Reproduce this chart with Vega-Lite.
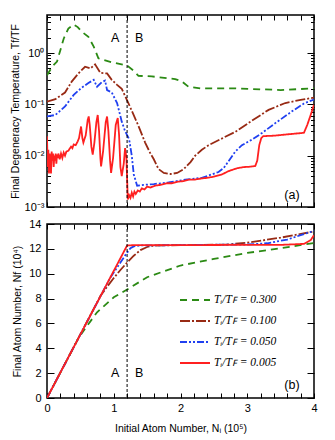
{
  "$schema": "https://vega.github.io/schema/vega-lite/v6.json",
  "padding": {"left": 9, "top": 10, "right": 4, "bottom": 2},
  "spacing": 4,
  "config": {
    "font": "Liberation Sans",
    "view": {"stroke": "black", "strokeWidth": 1.5},
    "axis": {
      "domain": false, "grid": false, "tickColor": "black", "tickWidth": 1,
      "labelColor": "black", "titleColor": "black",
      "labelFont": "Liberation Sans", "titleFont": "Liberation Sans",
      "labelFontSize": 11, "titleFontSize": 10.5, "titleFontWeight": "normal",
      "labelFlush": false, "labelOverlap": false, "labelBound": false
    },
    "legend": {"labelFont": "Liberation Serif", "labelFontSize": 11.5, "labelFontStyle": "italic", "labelColor": "black"}
  },
  "datasets": {
    "top": [
      {"r": "0.300", "N": 0.0, "T": 0.37}, {"r": "0.300", "N": 0.08, "T": 0.55}, {"r": "0.300", "N": 0.15, "T": 0.68},
      {"r": "0.300", "N": 0.25, "T": 1.9}, {"r": "0.300", "N": 0.32, "T": 3.0}, {"r": "0.300", "N": 0.4, "T": 3.6},
      {"r": "0.300", "N": 0.46, "T": 3.2}, {"r": "0.300", "N": 0.52, "T": 2.6}, {"r": "0.300", "N": 0.62, "T": 2.07},
      {"r": "0.300", "N": 0.7, "T": 1.33}, {"r": "0.300", "N": 0.77, "T": 0.79}, {"r": "0.300", "N": 0.85, "T": 0.73},
      {"r": "0.300", "N": 0.97, "T": 0.66}, {"r": "0.300", "N": 1.2, "T": 0.57}, {"r": "0.300", "N": 1.3, "T": 0.45},
      {"r": "0.300", "N": 1.37, "T": 0.36}, {"r": "0.300", "N": 1.57, "T": 0.35}, {"r": "0.300", "N": 1.92, "T": 0.31},
      {"r": "0.300", "N": 2.02, "T": 0.28}, {"r": "0.300", "N": 2.12, "T": 0.22}, {"r": "0.300", "N": 2.3, "T": 0.205},
      {"r": "0.300", "N": 2.8, "T": 0.205}, {"r": "0.300", "N": 3.5, "T": 0.19}, {"r": "0.300", "N": 4.0, "T": 0.205},

      {"r": "0.100", "N": 0.0, "T": 0.113}, {"r": "0.100", "N": 0.125, "T": 0.126}, {"r": "0.100", "N": 0.27, "T": 0.17},
      {"r": "0.100", "N": 0.37, "T": 0.277}, {"r": "0.100", "N": 0.47, "T": 0.4}, {"r": "0.100", "N": 0.57, "T": 0.54},
      {"r": "0.100", "N": 0.65, "T": 0.5}, {"r": "0.100", "N": 0.72, "T": 0.6}, {"r": "0.100", "N": 0.8, "T": 0.41},
      {"r": "0.100", "N": 0.9, "T": 0.4}, {"r": "0.100", "N": 0.97, "T": 0.3}, {"r": "0.100", "N": 1.05, "T": 0.24},
      {"r": "0.100", "N": 1.12, "T": 0.2}, {"r": "0.100", "N": 1.2, "T": 0.12}, {"r": "0.100", "N": 1.27, "T": 0.075},
      {"r": "0.100", "N": 1.37, "T": 0.038}, {"r": "0.100", "N": 1.47, "T": 0.018}, {"r": "0.100", "N": 1.55, "T": 0.011},
      {"r": "0.100", "N": 1.6, "T": 0.0085}, {"r": "0.100", "N": 1.67, "T": 0.0055}, {"r": "0.100", "N": 1.75, "T": 0.0046},
      {"r": "0.100", "N": 1.85, "T": 0.0044}, {"r": "0.100", "N": 1.95, "T": 0.0046}, {"r": "0.100", "N": 2.05, "T": 0.0055},
      {"r": "0.100", "N": 2.15, "T": 0.0075}, {"r": "0.100", "N": 2.22, "T": 0.01}, {"r": "0.100", "N": 2.32, "T": 0.013},
      {"r": "0.100", "N": 2.42, "T": 0.016}, {"r": "0.100", "N": 2.6, "T": 0.021}, {"r": "0.100", "N": 2.82, "T": 0.029},
      {"r": "0.100", "N": 3.07, "T": 0.048}, {"r": "0.100", "N": 3.32, "T": 0.078}, {"r": "0.100", "N": 3.57, "T": 0.106},
      {"r": "0.100", "N": 3.8, "T": 0.122}, {"r": "0.100", "N": 4.0, "T": 0.135},

      {"r": "0.050", "N": 0.0, "T": 0.058}, {"r": "0.050", "N": 0.125, "T": 0.062}, {"r": "0.050", "N": 0.27, "T": 0.091},
      {"r": "0.050", "N": 0.4, "T": 0.153}, {"r": "0.050", "N": 0.51, "T": 0.206}, {"r": "0.050", "N": 0.62, "T": 0.26},
      {"r": "0.050", "N": 0.7, "T": 0.3}, {"r": "0.050", "N": 0.75, "T": 0.22}, {"r": "0.050", "N": 0.82, "T": 0.27},
      {"r": "0.050", "N": 0.87, "T": 0.29}, {"r": "0.050", "N": 0.9, "T": 0.19}, {"r": "0.050", "N": 0.97, "T": 0.17},
      {"r": "0.050", "N": 1.05, "T": 0.106}, {"r": "0.050", "N": 1.12, "T": 0.046}, {"r": "0.050", "N": 1.17, "T": 0.03},
      {"r": "0.050", "N": 1.23, "T": 0.021}, {"r": "0.050", "N": 1.27, "T": 0.01}, {"r": "0.050", "N": 1.3, "T": 0.0043},
      {"r": "0.050", "N": 1.35, "T": 0.0026}, {"r": "0.050", "N": 1.45, "T": 0.0027}, {"r": "0.050", "N": 1.6, "T": 0.0028},
      {"r": "0.050", "N": 1.82, "T": 0.003}, {"r": "0.050", "N": 2.07, "T": 0.0034}, {"r": "0.050", "N": 2.32, "T": 0.0037},
      {"r": "0.050", "N": 2.57, "T": 0.0048}, {"r": "0.050", "N": 2.65, "T": 0.0058}, {"r": "0.050", "N": 2.72, "T": 0.0078},
      {"r": "0.050", "N": 2.82, "T": 0.012}, {"r": "0.050", "N": 2.92, "T": 0.016}, {"r": "0.050", "N": 3.07, "T": 0.0205},
      {"r": "0.050", "N": 3.22, "T": 0.0276}, {"r": "0.050", "N": 3.42, "T": 0.043}, {"r": "0.050", "N": 3.67, "T": 0.073},
      {"r": "0.050", "N": 3.85, "T": 0.104}, {"r": "0.050", "N": 4.0, "T": 0.124},

      {"r": "0.005", "N": 0.0, "T": 0.024}, {"r": "0.005", "N": 0.01, "T": 0.006}, {"r": "0.005", "N": 0.02, "T": 0.013},
      {"r": "0.005", "N": 0.03, "T": 0.0045}, {"r": "0.005", "N": 0.04, "T": 0.011}, {"r": "0.005", "N": 0.05, "T": 0.007},
      {"r": "0.005", "N": 0.06, "T": 0.0045}, {"r": "0.005", "N": 0.07, "T": 0.012}, {"r": "0.005", "N": 0.08, "T": 0.008},
      {"r": "0.005", "N": 0.09, "T": 0.011}, {"r": "0.005", "N": 0.1, "T": 0.006}, {"r": "0.005", "N": 0.11, "T": 0.01},
      {"r": "0.005", "N": 0.12, "T": 0.008}, {"r": "0.005", "N": 0.13, "T": 0.011}, {"r": "0.005", "N": 0.14, "T": 0.007},
      {"r": "0.005", "N": 0.15, "T": 0.0105}, {"r": "0.005", "N": 0.16, "T": 0.009}, {"r": "0.005", "N": 0.17, "T": 0.011},
      {"r": "0.005", "N": 0.19, "T": 0.0085}, {"r": "0.005", "N": 0.21, "T": 0.011}, {"r": "0.005", "N": 0.23, "T": 0.009},
      {"r": "0.005", "N": 0.25, "T": 0.0115}, {"r": "0.005", "N": 0.27, "T": 0.01}, {"r": "0.005", "N": 0.29, "T": 0.012},
      {"r": "0.005", "N": 0.32, "T": 0.0125}, {"r": "0.005", "N": 0.36, "T": 0.015}, {"r": "0.005", "N": 0.38, "T": 0.014},
      {"r": "0.005", "N": 0.4, "T": 0.0165}, {"r": "0.005", "N": 0.43, "T": 0.016}, {"r": "0.005", "N": 0.46, "T": 0.019},
      {"r": "0.005", "N": 0.48, "T": 0.022}, {"r": "0.005", "N": 0.51, "T": 0.037}, {"r": "0.005", "N": 0.53, "T": 0.022},
      {"r": "0.005", "N": 0.545, "T": 0.018}, {"r": "0.005", "N": 0.58, "T": 0.025}, {"r": "0.005", "N": 0.61, "T": 0.05},
      {"r": "0.005", "N": 0.625, "T": 0.058}, {"r": "0.005", "N": 0.64, "T": 0.04}, {"r": "0.005", "N": 0.665, "T": 0.015},
      {"r": "0.005", "N": 0.685, "T": 0.0105}, {"r": "0.005", "N": 0.71, "T": 0.018}, {"r": "0.005", "N": 0.74, "T": 0.045},
      {"r": "0.005", "N": 0.76, "T": 0.062}, {"r": "0.005", "N": 0.78, "T": 0.03}, {"r": "0.005", "N": 0.8, "T": 0.009},
      {"r": "0.005", "N": 0.81, "T": 0.0062}, {"r": "0.005", "N": 0.84, "T": 0.012}, {"r": "0.005", "N": 0.88, "T": 0.045},
      {"r": "0.005", "N": 0.9, "T": 0.058}, {"r": "0.005", "N": 0.92, "T": 0.03}, {"r": "0.005", "N": 0.945, "T": 0.008},
      {"r": "0.005", "N": 0.96, "T": 0.0046}, {"r": "0.005", "N": 0.99, "T": 0.009}, {"r": "0.005", "N": 1.03, "T": 0.04},
      {"r": "0.005", "N": 1.06, "T": 0.054}, {"r": "0.005", "N": 1.08, "T": 0.025}, {"r": "0.005", "N": 1.1, "T": 0.006},
      {"r": "0.005", "N": 1.12, "T": 0.004}, {"r": "0.005", "N": 1.15, "T": 0.007}, {"r": "0.005", "N": 1.17, "T": 0.014},
      {"r": "0.005", "N": 1.19, "T": 0.009}, {"r": "0.005", "N": 1.21, "T": 0.0014}, {"r": "0.005", "N": 1.23, "T": 0.0017},
      {"r": "0.005", "N": 1.25, "T": 0.0015}, {"r": "0.005", "N": 1.27, "T": 0.0019}, {"r": "0.005", "N": 1.29, "T": 0.0016},
      {"r": "0.005", "N": 1.31, "T": 0.002}, {"r": "0.005", "N": 1.33, "T": 0.0018}, {"r": "0.005", "N": 1.36, "T": 0.0021},
      {"r": "0.005", "N": 1.39, "T": 0.002}, {"r": "0.005", "N": 1.42, "T": 0.0023}, {"r": "0.005", "N": 1.46, "T": 0.0022},
      {"r": "0.005", "N": 1.5, "T": 0.0025}, {"r": "0.005", "N": 1.55, "T": 0.0024}, {"r": "0.005", "N": 1.62, "T": 0.0026},
      {"r": "0.005", "N": 1.7, "T": 0.0027}, {"r": "0.005", "N": 1.8, "T": 0.0029}, {"r": "0.005", "N": 1.87, "T": 0.0029},
      {"r": "0.005", "N": 1.95, "T": 0.0031}, {"r": "0.005", "N": 2.05, "T": 0.0032}, {"r": "0.005", "N": 2.12, "T": 0.0034},
      {"r": "0.005", "N": 2.2, "T": 0.0034}, {"r": "0.005", "N": 2.32, "T": 0.0036}, {"r": "0.005", "N": 2.4, "T": 0.0037},
      {"r": "0.005", "N": 2.5, "T": 0.0039}, {"r": "0.005", "N": 2.62, "T": 0.0043}, {"r": "0.005", "N": 2.72, "T": 0.005},
      {"r": "0.005", "N": 2.85, "T": 0.0057}, {"r": "0.005", "N": 2.95, "T": 0.006}, {"r": "0.005", "N": 3.05, "T": 0.0061},
      {"r": "0.005", "N": 3.12, "T": 0.0063}, {"r": "0.005", "N": 3.15, "T": 0.008}, {"r": "0.005", "N": 3.18, "T": 0.016},
      {"r": "0.005", "N": 3.21, "T": 0.022}, {"r": "0.005", "N": 3.24, "T": 0.024}, {"r": "0.005", "N": 3.4, "T": 0.0245},
      {"r": "0.005", "N": 3.6, "T": 0.026}, {"r": "0.005", "N": 3.8, "T": 0.0275}, {"r": "0.005", "N": 3.85, "T": 0.028},
      {"r": "0.005", "N": 3.9, "T": 0.04}, {"r": "0.005", "N": 3.95, "T": 0.062}, {"r": "0.005", "N": 4.0, "T": 0.098}
    ],
    "bottom": [
      {"r": "0.300", "N": 0.0, "F": 0.0}, {"r": "0.300", "N": 0.47, "F": 4.8}, {"r": "0.300", "N": 0.6, "F": 5.8},
      {"r": "0.300", "N": 0.75, "F": 6.9}, {"r": "0.300", "N": 1.0, "F": 8.1}, {"r": "0.300", "N": 1.2, "F": 8.73},
      {"r": "0.300", "N": 1.5, "F": 9.72}, {"r": "0.300", "N": 2.0, "F": 10.66}, {"r": "0.300", "N": 2.5, "F": 11.19},
      {"r": "0.300", "N": 3.0, "F": 11.67}, {"r": "0.300", "N": 3.5, "F": 12.05}, {"r": "0.300", "N": 4.0, "F": 12.47},

      {"r": "0.100", "N": 0.0, "F": 0.0}, {"r": "0.100", "N": 0.8, "F": 8.2}, {"r": "0.100", "N": 0.9, "F": 8.95},
      {"r": "0.100", "N": 1.0, "F": 9.65}, {"r": "0.100", "N": 1.1, "F": 10.3}, {"r": "0.100", "N": 1.2, "F": 10.9},
      {"r": "0.100", "N": 1.3, "F": 11.45}, {"r": "0.100", "N": 1.4, "F": 11.9}, {"r": "0.100", "N": 1.5, "F": 12.15},
      {"r": "0.100", "N": 1.6, "F": 12.27}, {"r": "0.100", "N": 2.0, "F": 12.3}, {"r": "0.100", "N": 2.7, "F": 12.35},
      {"r": "0.100", "N": 3.0, "F": 12.5}, {"r": "0.100", "N": 3.5, "F": 12.9}, {"r": "0.100", "N": 4.0, "F": 13.4},

      {"r": "0.050", "N": 0.0, "F": 0.0}, {"r": "0.050", "N": 0.95, "F": 9.7}, {"r": "0.050", "N": 1.05, "F": 10.5},
      {"r": "0.050", "N": 1.15, "F": 11.3}, {"r": "0.050", "N": 1.2, "F": 11.7}, {"r": "0.050", "N": 1.25, "F": 12.05},
      {"r": "0.050", "N": 1.3, "F": 12.2}, {"r": "0.050", "N": 1.4, "F": 12.28}, {"r": "0.050", "N": 2.0, "F": 12.3},
      {"r": "0.050", "N": 3.0, "F": 12.35}, {"r": "0.050", "N": 3.3, "F": 12.45}, {"r": "0.050", "N": 3.6, "F": 12.75},
      {"r": "0.050", "N": 3.8, "F": 13.1}, {"r": "0.050", "N": 4.0, "F": 13.45},

      {"r": "0.005", "N": 0.0, "F": 0.0}, {"r": "0.005", "N": 1.2, "F": 12.27}, {"r": "0.005", "N": 1.3, "F": 12.3},
      {"r": "0.005", "N": 2.0, "F": 12.3}, {"r": "0.005", "N": 3.0, "F": 12.32}, {"r": "0.005", "N": 3.5, "F": 12.32},
      {"r": "0.005", "N": 3.85, "F": 12.4}, {"r": "0.005", "N": 3.95, "F": 12.7}, {"r": "0.005", "N": 4.0, "F": 13.1}
    ],
    "notesTop": [
      {"N": 1.02, "T": 2.0, "label": "A"}, {"N": 1.38, "T": 2.0, "label": "B"}, {"N": 3.67, "T": 0.00175, "label": "(a)"}
    ],
    "notesBottom": [
      {"N": 1.02, "F": 2.0, "label": "A"}, {"N": 1.38, "F": 2.0, "label": "B"}, {"N": 3.67, "F": 1.05, "label": "(b)"}
    ],
    "vline": [{"N": 1.2}]
  },
  "resolve": {"legend": {"color": "independent", "strokeDash": "independent"}},
  "vconcat": [
    {
      "width": 267, "height": 192,
      "resolve": {"axis": {"x": "independent", "y": "independent"}},
      "layer": [
        {
          "data": {"name": "top"},
          "mark": {"type": "line", "strokeWidth": 1.8, "clip": true},
          "encoding": {
            "x": {"field": "N", "type": "quantitative", "scale": {"domain": [0, 4], "nice": false},
              "axis": {"orient": "bottom", "values": [0,0.2,0.4,0.6,0.8,1,1.2,1.4,1.6,1.8,2,2.2,2.4,2.6,2.8,3,3.2,3.4,3.6,3.8,4], "labels": false, "title": null, "tickSize": -5}},
            "y": {"field": "T", "type": "quantitative", "scale": {"type": "log", "domain": [0.001, 5.5], "nice": false},
              "axis": {"orient": "left",
                "values": [0.001,0.002,0.003,0.004,0.005,0.006,0.007,0.008,0.009,0.01,0.02,0.03,0.04,0.05,0.06,0.07,0.08,0.09,0.1,0.2,0.3,0.4,0.5,0.6,0.7,0.8,0.9,1,2,3,4,5],
                "labelExpr": "datum.value==1?'10⁰':datum.value==0.1?'10⁻¹':datum.value==0.01?'10⁻²':datum.value==0.001?'10⁻³':''",
                "tickSize": {"condition": {"test": "datum.value==1||datum.value==0.1||datum.value==0.01||datum.value==0.001", "value": -7}, "value": -3.5},
                "labelPadding": 10,
                "title": "Final Degeneracy Temperature, Tf/TF", "titlePadding": 4}},
            "color": {"field": "r", "type": "nominal", "scale": {"domain": ["0.300", "0.100", "0.050", "0.005"], "range": ["#2b8a14", "#982a14", "#2040f0", "#ff2020"]}, "legend": null},
            "strokeDash": {"field": "r", "type": "nominal", "scale": {"domain": ["0.300", "0.100", "0.050", "0.005"], "range": [[7, 5], [10, 2, 2, 2], [7, 2, 2, 2, 2, 2], [1, 0]]}, "legend": null}
          }
        },
        {
          "data": {"name": "notesTop"},
          "mark": {"type": "text", "fontSize": 12.5, "font": "Liberation Sans", "color": "black"},
          "encoding": {
            "x": {"field": "N", "type": "quantitative", "axis": {"orient": "top", "values": [0,0.2,0.4,0.6,0.8,1,1.2,1.4,1.6,1.8,2,2.2,2.4,2.6,2.8,3,3.2,3.4,3.6,3.8,4], "labels": false, "title": null, "tickSize": -5}},
            "y": {"field": "T", "type": "quantitative", "scale": {"type": "log"},
              "axis": {"orient": "right",
                "values": [0.001,0.002,0.003,0.004,0.005,0.006,0.007,0.008,0.009,0.01,0.02,0.03,0.04,0.05,0.06,0.07,0.08,0.09,0.1,0.2,0.3,0.4,0.5,0.6,0.7,0.8,0.9,1,2,3,4,5],
                "labels": false, "title": null,
                "tickSize": {"condition": {"test": "datum.value==1||datum.value==0.1||datum.value==0.01||datum.value==0.001", "value": -7}, "value": -3.5}}},
            "text": {"field": "label"}
          }
        },
        {
          "data": {"name": "vline"},
          "mark": {"type": "rule", "strokeDash": [3, 2], "color": "black", "strokeWidth": 1},
          "encoding": {"x": {"field": "N", "type": "quantitative", "axis": null}}
        }
      ]
    },
    {
      "width": 267, "height": 174,
      "resolve": {"axis": {"x": "independent", "y": "independent"}},
      "layer": [
        {
          "data": {"name": "bottom"},
          "mark": {"type": "line", "strokeWidth": 1.8, "clip": true},
          "encoding": {
            "x": {"field": "N", "type": "quantitative", "scale": {"domain": [0, 4], "nice": false},
              "axis": {"orient": "bottom", "values": [0,0.2,0.4,0.6,0.8,1,1.2,1.4,1.6,1.8,2,2.2,2.4,2.6,2.8,3,3.2,3.4,3.6,3.8,4],
                "labelExpr": "datum.value%1==0?format(datum.value,'d'):''", "tickSize": -5, "labelPadding": 9,
                "title": "Initial Atom Number, Nᵢ  (10⁵)", "titlePadding": 10}},
            "y": {"field": "F", "type": "quantitative", "scale": {"domain": [0, 14], "nice": false},
              "axis": {"orient": "left", "values": [0,2,4,6,8,10,12,14], "tickSize": -7, "labelPadding": 13,
                "title": "Final Atom Number, Nf (10⁴)", "titlePadding": 6}},
            "color": {"field": "r", "type": "nominal", "scale": {"domain": ["0.300", "0.100", "0.050", "0.005"], "range": ["#2b8a14", "#982a14", "#2040f0", "#ff2020"]},
              "legend": {"orient": "none", "legendX": 142, "legendY": 70, "title": null, "symbolType": "M-3,0H3", "symbolSize": 100, "symbolStrokeWidth": 2,
                "labelExpr": "'Tᵢ/Tꜰ = ' + datum.label", "labelOffset": 13, "rowPadding": 9, "padding": 0}},
            "strokeDash": {"field": "r", "type": "nominal", "scale": {"domain": ["0.300", "0.100", "0.050", "0.005"], "range": [[7, 5], [10, 2, 2, 2], [7, 2, 2, 2, 2, 2], [1, 0]]},
              "legend": {"orient": "none", "legendX": 142, "legendY": 70, "title": null, "symbolType": "M-3,0H3", "symbolSize": 100, "symbolStrokeWidth": 2,
                "labelExpr": "'Tᵢ/Tꜰ = ' + datum.label", "labelOffset": 13, "rowPadding": 9, "padding": 0}}
          }
        },
        {
          "data": {"name": "notesBottom"},
          "mark": {"type": "text", "fontSize": 12.5, "font": "Liberation Sans", "color": "black"},
          "encoding": {
            "x": {"field": "N", "type": "quantitative", "axis": {"orient": "top", "values": [0,0.2,0.4,0.6,0.8,1,1.2,1.4,1.6,1.8,2,2.2,2.4,2.6,2.8,3,3.2,3.4,3.6,3.8,4], "labels": false, "title": null, "tickSize": -5}},
            "y": {"field": "F", "type": "quantitative", "axis": {"orient": "right", "values": [0,2,4,6,8,10,12,14], "labels": false, "title": null, "tickSize": -7}},
            "text": {"field": "label"}
          }
        },
        {
          "data": {"name": "vline"},
          "mark": {"type": "rule", "strokeDash": [3, 2], "color": "black", "strokeWidth": 1},
          "encoding": {"x": {"field": "N", "type": "quantitative", "axis": null}}
        }
      ]
    }
  ]
}
